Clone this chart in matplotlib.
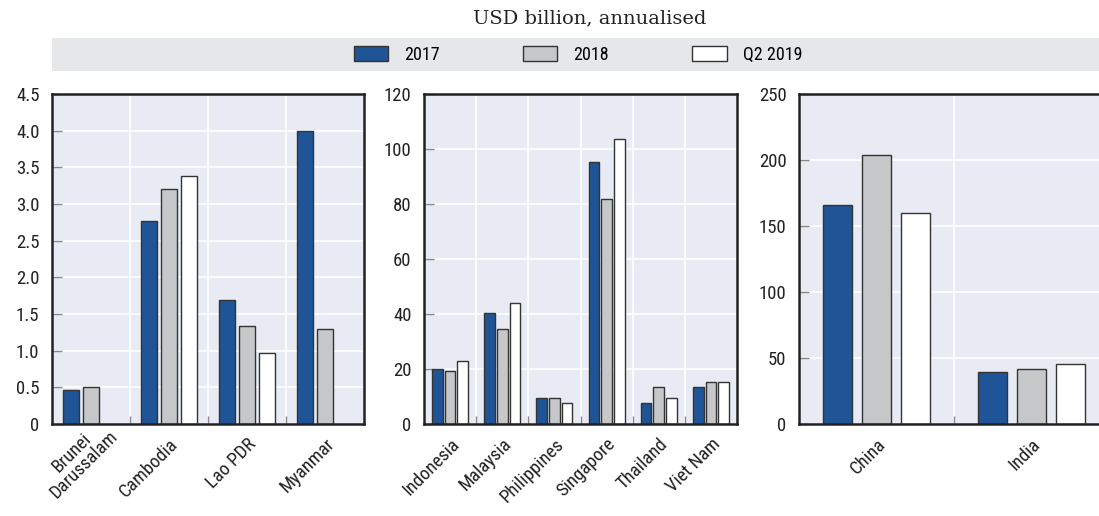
import numpy as np
import matplotlib
matplotlib.use("Agg")
import matplotlib.pyplot as plt
from matplotlib.patches import Rectangle, Patch
from matplotlib.transforms import ScaledTranslation

# ---- data ----
series = ["2017", "2018", "Q2 2019"]

cats1 = ["Brunei\nDarussalam", "Cambodia", "Lao PDR", "Myanmar"]
v1_2017 = [0.46, 2.77, 1.69, 4.00]
v1_2018 = [0.50, 3.21, 1.33, 1.29]
v1_q2 = [np.nan, 3.38, 0.97, np.nan]

cats2 = ["Indonesia", "Malaysia", "Philippines", "Singapore", "Thailand", "Viet Nam"]
v2_2017 = [19.9, 40.2, 9.4, 95.1, 7.5, 13.4]
v2_2018 = [19.1, 34.5, 9.4, 81.7, 13.4, 15.2]
v2_q2 = [22.8, 44.1, 7.5, 103.8, 9.4, 15.2]

cats3 = ["China", "India"]
v3_2017 = [165.7, 39.7]
v3_2018 = [204.0, 41.5]
v3_q2 = [160.0, 45.5]

yticks1 = [0, 0.5, 1.0, 1.5, 2.0, 2.5, 3.0, 3.5, 4.0, 4.5]
ytick1_labels = ["0", "0.5", "1.0", "1.5", "2.0", "2.5", "3.0", "3.5", "4.0", "4.5"]
yticks2 = [0, 20, 40, 60, 80, 100, 120]
yticks3 = [0, 50, 100, 150, 200, 250]

subtitle = "USD billion, annualised"

# ---- style ----
BLUE = "#1f5597"
GRAY = "#c6c7c9"
WHITE = "#ffffff"
EDGE = "#333333"
BG = "#e8eaf4"
BAND = "#e6e7e8"
colors = [BLUE, GRAY, WHITE]
SANS = ["Liberation Sans Narrow", "Roboto Condensed", "Liberation Sans", "DejaVu Sans"]
plt.rcParams["font.family"] = SANS

W, H = 1099, 516
fig = plt.figure(figsize=(W / 100, H / 100), dpi=100)

def px_axes(left, top, right, bottom):
    return fig.add_axes([left / W, 1 - bottom / H, (right - left) / W, (bottom - top) / H])

def draw_panel(ax, cats, vals, ymax, yticks, ylabels, width, step):
    n = len(cats)
    x = np.arange(n)
    for i, (v, c) in enumerate(zip(vals, colors)):
        ax.bar(x + (i - 1) * step, v, width=width, color=c, edgecolor=EDGE,
               linewidth=1.0, zorder=3)
    ax.set_xlim(-0.5, n - 0.5)
    ax.set_ylim(0, ymax)
    ax.set_facecolor(BG)
    ax.set_yticks(yticks)
    ax.set_yticklabels(ylabels, fontsize=13.5, color="#222222")
    ax.set_xticks(x)
    ax.set_xticklabels(cats, rotation=45, ha="right", rotation_mode="anchor",
                       fontsize=13.5, color="#222222", linespacing=0.95,
                       multialignment="center")
    ax.tick_params(axis="x", length=0, pad=8)
    ax.tick_params(axis="y", direction="in", length=7, color="#888888", width=1, pad=9)
    bounds = np.arange(0.5, n - 0.5, 1.0)
    ax.set_xticks(bounds, minor=True)
    ax.tick_params(axis="x", which="minor", direction="in", length=6, color="#888888", width=1)
    ax.grid(False)
    for b in bounds:
        ax.axvline(b, color="white", linewidth=1.2, zorder=1)
    for t in yticks[1:-1]:
        ax.axhline(t, color="white", linewidth=1.2, zorder=1)
    for s in ax.spines.values():
        s.set_color("#222222")
        s.set_linewidth(1.8)
        s.set_zorder(4)

ax1 = px_axes(52, 94, 364, 424)
draw_panel(ax1, cats1, [v1_2017, v1_2018, v1_q2], 4.5, yticks1, ytick1_labels, 0.20, 0.256)
# two-line label sits higher in the reference
for lab in ax1.get_xticklabels():
    if "\n" in lab.get_text():
        lab.set_transform(lab.get_transform() +
                          ScaledTranslation(5 / 100, 20 / 100, fig.dpi_scale_trans))

ax2 = px_axes(424, 94, 737, 424)
draw_panel(ax2, cats2, [v2_2017, v2_2018, v2_q2], 120, yticks2,
           [str(t) for t in yticks2], 0.205, 0.244)

ax3 = px_axes(799, 94, 1109, 424)
draw_panel(ax3, cats3, [v3_2017, v3_2018, v3_q2], 250, yticks3,
           [str(t) for t in yticks3], 0.19, 0.25)

# legend band
fig.patches.append(Rectangle((52 / W, 1 - 71 / H), (W - 52) / W, 33 / H,
                             transform=fig.transFigure, facecolor=BAND,
                             edgecolor="none", zorder=0))
handles = [Patch(facecolor=c, edgecolor=EDGE, linewidth=1.0) for c in colors]
fig.legend(handles, series, loc="center", bbox_to_anchor=(578 / W, 1 - 55 / H),
           ncol=3, frameon=False, fontsize=13, handlelength=1.9, handleheight=0.9,
           handletextpad=0.9, columnspacing=4.6)

fig.text(590 / W, 1 - 18 / H, subtitle, ha="center", va="center", fontsize=14,
         family=["DejaVu Serif"], color="#222222")

fig.savefig("out.png", dpi=100)
